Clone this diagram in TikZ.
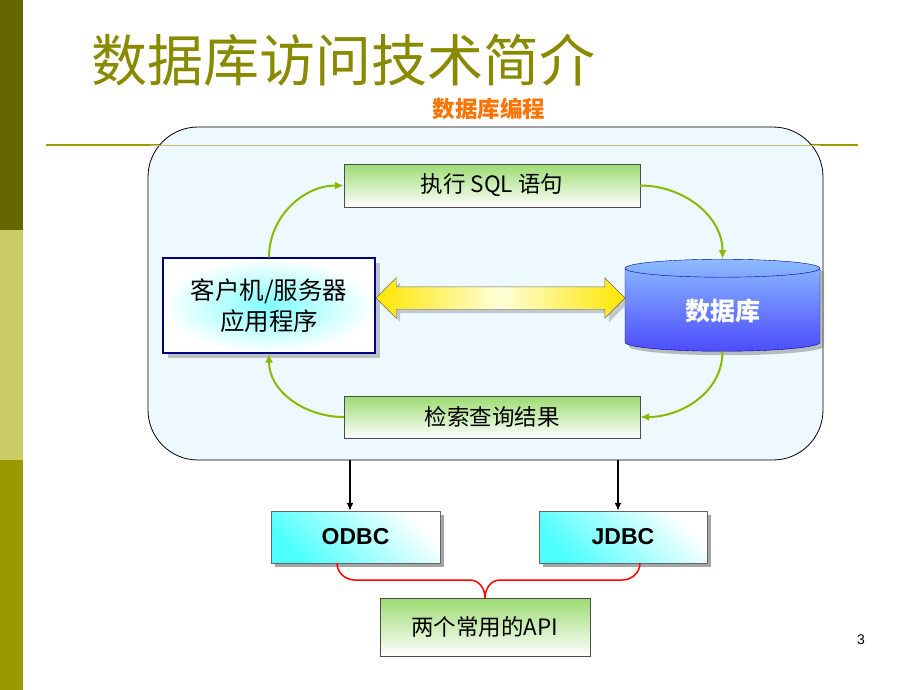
\documentclass[tikz,border=0pt]{standalone}
\usepackage{fontspec}
\setmainfont{Liberation Sans}
\newfontfamily\cjk{Noto Sans CJK SC}
\usetikzlibrary{shapes.geometric,shapes.arrows,arrows.meta,shadows}
\definecolor{olive}{HTML}{999900}
\definecolor{darkol}{HTML}{666600}
\definecolor{lightol}{HTML}{CCCC66}
\definecolor{grn}{HTML}{88BB00}
\begin{document}
\begin{tikzpicture}[x=1pt,y=-1pt,
 gbox/.style={draw=black!70,top color=green!45!lime!60!gray!70,bottom color=white,font=\cjk\fontsize{22.5}{26}\selectfont,inner sep=0pt},
 cbox/.style={draw=black!60,left color=cyan!70,right color=white,shading angle=135,font=\bfseries\fontsize{23}{26}\selectfont,drop shadow={shadow xshift=4pt,shadow yshift=-4pt,fill=black!50,opacity=0.7}},
 garr/.style={draw=grn,line width=2pt,-{Latex[length=9pt,width=8pt]}}]
\useasboundingbox (0,0) rectangle (920,690);
\fill[white] (0,0) rectangle (920,690);
\fill[darkol] (0,0) rectangle (23,230);
\fill[lightol] (0,230) rectangle (23,460);
\fill[olive] (0,460) rectangle (23,690);
\node[anchor=west,text=olive!90!black,font=\cjk\fontsize{56}{60}\selectfont] (title) at (88,60) {数据库访问技术简介};
\node[text=orange!90!red,font=\cjk\bfseries\fontsize{22.5}{26}\selectfont] (sub) at (489,109) {数据库编程};
\draw[olive,line width=1.5pt] (46,145) -- (858,145);
\draw[fill=cyan!7,draw=black,line width=0.8pt,rounded corners=50] (148,127) rectangle (823,460);
\draw[olive!60,line width=1pt] (150,145) -- (821,145);
\node[gbox,minimum width=296,minimum height=43] (sql) at (492,185.5) {执行 SQL 语句};
\node[gbox,minimum width=296,minimum height=42] (res) at (492,417) {检索查询结果};
\node[draw=blue!50!black,line width=1.3pt,inner color=cyan!50,outer color=white,minimum width=212,minimum height=95,align=center,font=\cjk\fontsize{24.5}{31}\selectfont,drop shadow={shadow xshift=5pt,shadow yshift=-5pt,fill=black!45}] (cli) at (269,305.5) {客户机/服务器\\应用程序};
\node[cylinder,shape border rotate=90,aspect=0.22,minimum width=195,minimum height=92,draw=blue!60!black,top color=cyan!40!blue!45,bottom color=blue!70,text=white,font=\cjk\bfseries\fontsize{25}{28}\selectfont,drop shadow={shadow xshift=4pt,shadow yshift=-4pt,fill=black!50}] (db) at (722.5,311) {数据库};
\node[double arrow,double arrow head extend=9pt,double arrow head indent=0pt,draw=black!60,left color=yellow!80!orange,right color=yellow!80!orange,middle color=yellow!15,minimum height=249,inner xsep=0pt,inner ysep=11pt,drop shadow={shadow xshift=4pt,shadow yshift=-4pt,fill=black!40}] (dbl) at (500.5,298) {};
\draw[garr] (cli.north) to[out=90,in=180] (sql.west);
\draw[garr] (sql.east) to[out=0,in=90] (db.north);
\draw[garr] (db.south) to[out=-90,in=0] (res.east);
\draw[garr] (res.west) to[out=180,in=-90] (cli.south);
\node[cbox,minimum width=169,minimum height=52] (odbc) at (355.5,537) {ODBC};
\node[cbox,minimum width=168,minimum height=52] (jdbc) at (623,537) {JDBC};
\coordinate (o1) at (350,460); \coordinate (j1) at (618,460);
\draw[line width=1.5pt,-{Latex[length=8pt,width=7pt]}] (o1) -- (odbc.north -| o1);
\draw[line width=1.5pt,-{Latex[length=8pt,width=7pt]}] (j1) -- (jdbc.north -| j1);
\node[gbox,minimum width=210,minimum height=58] (api) at (485,627) {两个常用的API};
\draw[red,line width=1.5pt] (337,563) to[out=-90,in=180] (355,580) -- (470,580) to[out=0,in=90] (api.north) to[out=90,in=180] (500,580) -- (622,580) to[out=0,in=-90] (640,563);
\node[font=\fontsize{14}{16}\selectfont] (pg) at (861,640) {3};
\end{tikzpicture}
\end{document}
